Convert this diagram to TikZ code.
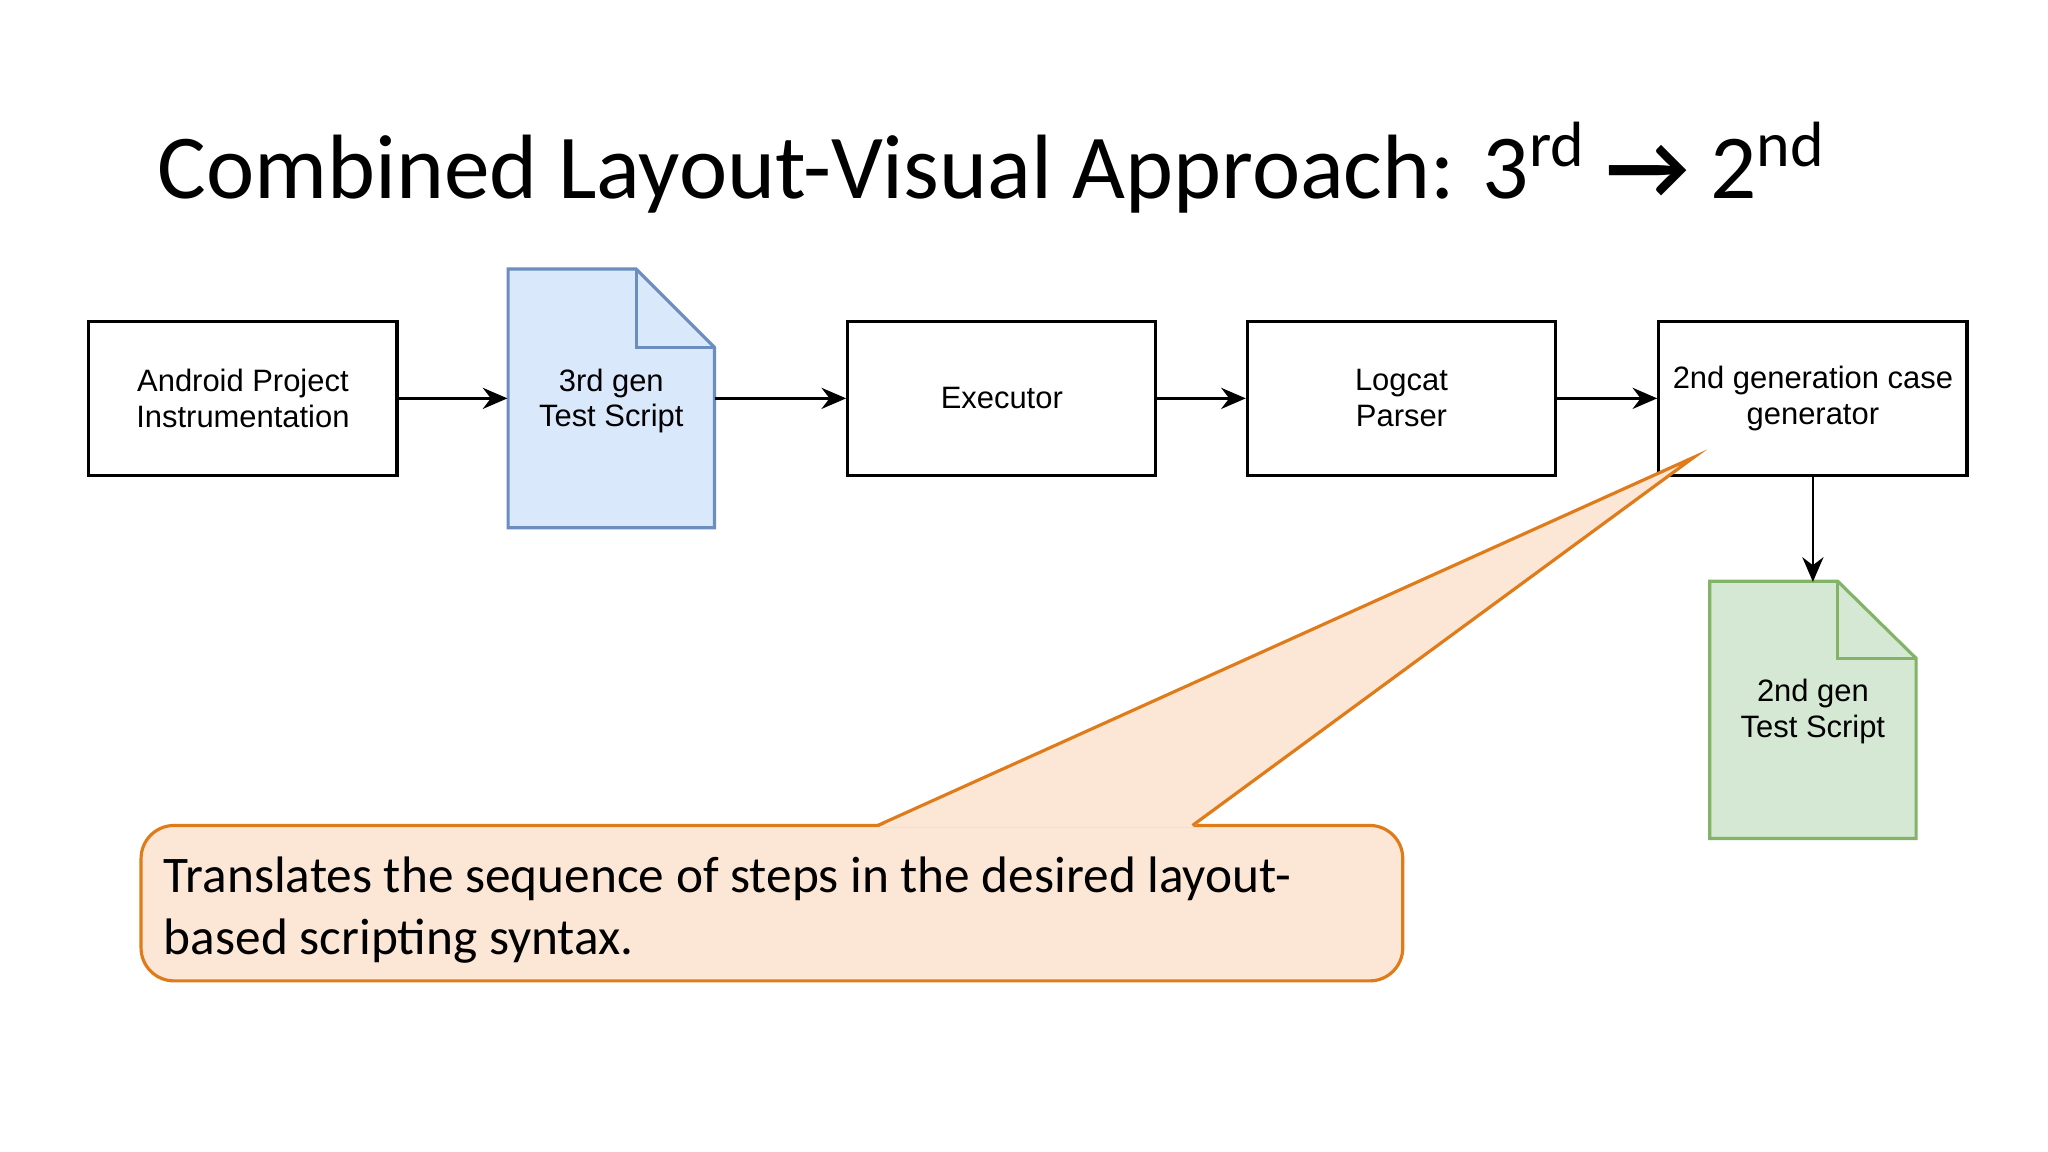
\documentclass[tikz,border=0pt]{standalone}
\usepackage{fontspec}
\setmainfont{Liberation Sans}
\newfontfamily\calfont{Carlito}
\usetikzlibrary{arrows.meta}
\definecolor{bluef}{HTML}{DAE8FC}\definecolor{blued}{HTML}{6C8EBF}
\definecolor{greenf}{HTML}{D5E8D4}\definecolor{greend}{HTML}{82B366}
\definecolor{calf}{HTML}{FCE6D6}\definecolor{cald}{HTML}{E07B1A}
\begin{document}
\begin{tikzpicture}[x=0.01306cm,y=-0.01306cm,
 box/.style={draw,line width=0.9pt,minimum width=3.082cm,minimum height=1.541cm,align=center,font=\fontsize{8.8}{10.2}\selectfont,inner sep=0pt},
 ghost/.style={minimum width=2.063cm,minimum height=2.586cm,inner sep=0pt,align=center,font=\fontsize{8.8}{10.2}\selectfont},
 arr/.style={-{Stealth[length=7pt,width=6pt]},line width=0.8pt}]
\useasboundingbox (0,0) rectangle (1568,882);
\fill[white] (0,0) rectangle (1568,882);
\node[anchor=base west,font=\calfont\fontsize{26}{28}\selectfont,inner sep=0pt] (title) at (120,152) {Combined Layout-Visual Approach: 3\textsuperscript{rd} \textbf{→} 2\textsuperscript{nd}};
\node[box] (a) at (186,305) {Android Project\\Instrumentation};
\node[box] (e) at (767,305) {Executor};
\node[box] (l) at (1073,305) {Logcat\\Parser};
\node[box] (g) at (1388,305) {2nd generation case\\generator};
% doc 1
\draw[fill=bluef,draw=blued,line width=0.9pt] (389,206) -- (487,206) -- (547,266) -- (547,404) -- (389,404) -- cycle;
\draw[draw=blued,line width=0.9pt] (487,206) -- (487,266) -- (547,266);
\node[ghost] (d1) at (468,307) {3rd gen\\Test Script};
% doc 2
\draw[fill=greenf,draw=greend,line width=0.9pt] (1309,445) -- (1407,445) -- (1467,504) -- (1467,642) -- (1309,642) -- cycle;
\draw[draw=greend,line width=0.9pt] (1407,445) -- (1407,504) -- (1467,504);
\node[ghost] (d2) at (1388,545) {2nd gen\\Test Script};
\draw[arr] (a) -- (a -| d1.west);
\draw[arr] (e -| d1.east) -- (e);
\draw[arr] (e) -- (l);
\draw[arr] (l) -- (g);
\draw[arr] (g) -- (d2);
% callout
\draw[fill=calf,draw=cald,line width=0.9pt,rounded corners=0.33cm] (108,632) rectangle (1074,751);
\fill[calf] (672,633.5) -- (1297,350) -- (913,633.5) -- cycle;
\draw[cald,line width=0.9pt] (672,632) -- (1297,350) -- (913,632);
\node[anchor=base west,inner sep=0pt,align=left,font=\calfont\fontsize{14.6}{17.8}\selectfont] (ct) at (125,731) {Translates the sequence of steps in the desired layout-\\based scripting syntax.};
\end{tikzpicture}
\end{document}
